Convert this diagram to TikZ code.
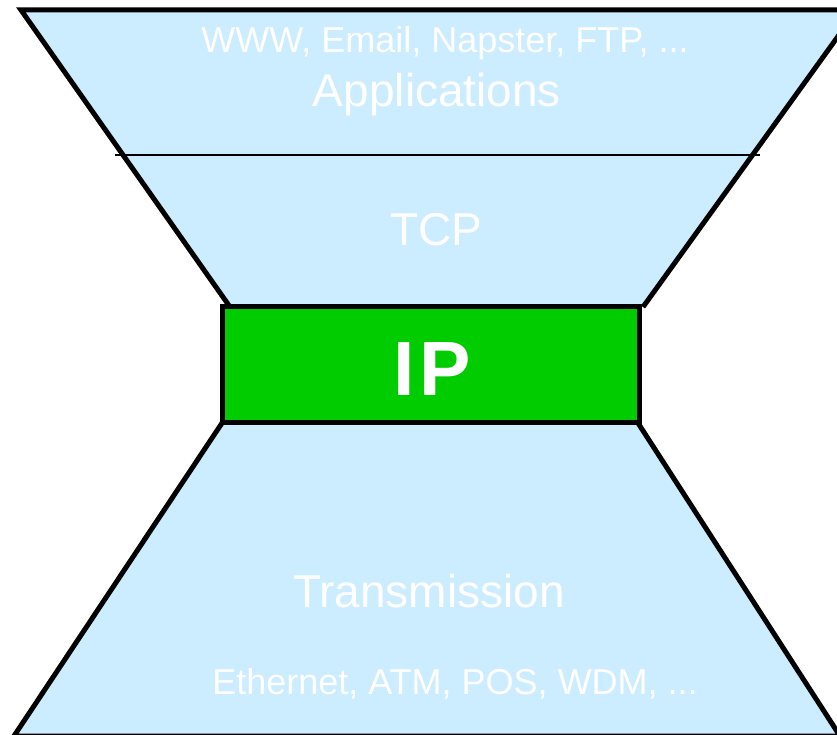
\documentclass[tikz,border=0pt]{standalone}
\usepackage{fontspec}
\setmainfont{Liberation Sans}
\definecolor{layerblue}{RGB}{204,236,255}
\definecolor{ipgreen}{RGB}{0,204,0}

\begin{document}
\begin{tikzpicture}[x=1pt,y=-1pt,
  layer/.style={fill=layerblue},
  edge/.style={line width=5pt,line join=miter},
  biglabel/.style={text=white,anchor=base,inner sep=0pt,font=\fontsize{46}{50}\selectfont},
  smalllabel/.style={text=white,anchor=base,inner sep=0pt,font=\fontsize{36}{40}\selectfont},
  iplabel/.style={text=white,anchor=base,inner sep=0pt,font=\fontsize{77}{80}\selectfont\bfseries},
  ipbox/.style={draw,line width=5pt,fill=ipgreen,minimum width=417pt,minimum height=116pt,inner sep=0pt},
]
\useasboundingbox (0,0) rectangle (837,735);
\clip (0,0) rectangle (837,735);

% upper funnel: applications and transport
\coordinate (tl) at (21,10);
\coordinate (tr) at (857,10);
\coordinate (ubr) at (643,307);
\coordinate (ubl) at (230,307);
\fill[layer] (tl) -- (tr) -- (ubr) -- (ubl) -- cycle;
\draw[edge] (ubl) -- (tl) -- (tr) -- (ubr);

% divider between applications and TCP
\coordinate (sepl) at (115,155);
\coordinate (sepr) at (760,155);
\draw[line width=1.5pt] (sepl) -- (sepr);

% lower funnel: transmission technologies
\coordinate (ltl) at (222,423);
\coordinate (ltr) at (638,423);
\coordinate (lbr) at (840,736);
\coordinate (lbl) at (14,736);
\fill[layer] (ltl) -- (ltr) -- (lbr) -- (lbl) -- cycle;
\draw[edge] (ltl) -- (lbl) -- (lbr) -- (ltr);

% the narrow waist
\node[ipbox] (ip) at (430.5,364.5) {};
\node[iplabel] (iptext) at (432.5,395) {I\kern5pt P};

% labels
\node[smalllabel] (apps) at (445,53) {WWW, Email, Napster, FTP, ...};
\node[biglabel] (applications) at (437,107) {Applications};
\node[biglabel] (tcp) at (436.5,245) {TCP};
\node[biglabel] (transmission) at (429,607) {Transmission};
\node[smalllabel] (links) at (455,694) {Ethernet, ATM, POS, WDM, ...};
\end{tikzpicture}
\end{document}
